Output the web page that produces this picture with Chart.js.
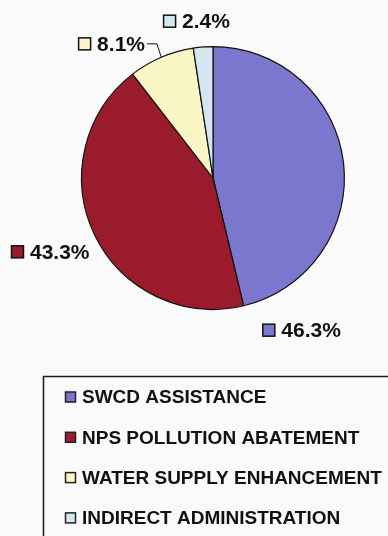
<!DOCTYPE html>
<html>
<head>
<meta charset="utf-8">
<script src="https://cdn.jsdelivr.net/npm/chart.js@4/dist/chart.umd.min.js"></script>
<style>
  html, body { margin: 0; padding: 0; background: #fafafa; }
  #wrap { width: 388px; height: 536px; position: relative; }
</style>
</head>
<body>
<div id="wrap"><canvas id="c" width="388" height="536"></canvas></div>
<script>
// ---- data ----
const categories = ["SWCD ASSISTANCE", "NPS POLLUTION ABATEMENT", "WATER SUPPLY ENHANCEMENT", "INDIRECT ADMINISTRATION"];
const shares = [46.3, 43.3, 8.1, 2.4];
const sliceColors = ["#7b77cf", "#9a1b2b", "#faf5c4", "#d4e7f1"];

// label placement (clock angle from 12 o'clock in degrees, distance as multiple of radius)
const labelPlacement = [[149.8, 1.34], [245.6, 1.36], [322.9, 1.28], [354, 1.2]];
const leaderLines = [false, false, true, false];

const LABEL_FONT = 'bold 21px "Liberation Sans", Arial, sans-serif';
const LEGEND_FONT = 'bold 19px "Liberation Sans", Arial, sans-serif';

const labelsPlugin = {
  id: 'pctLabels',
  afterDatasetsDraw(chart) {
    const ctx = chart.ctx;
    const meta = chart.getDatasetMeta(0);
    const ds = chart.data.datasets[0];
    ctx.save();
    ctx.font = LABEL_FONT;
    ctx.textBaseline = 'middle';
    meta.data.forEach((arc, i) => {
      const p = arc.getProps(['x', 'y', 'outerRadius', 'startAngle', 'endAngle'], true);
      const [deg, f] = labelPlacement[i];
      const a = (deg - 90) * Math.PI / 180;
      const cx = p.x + Math.cos(a) * p.outerRadius * f;
      const cy = p.y + Math.sin(a) * p.outerRadius * f;
      const txt = ds.data[i].toFixed(1) + '%';
      const tw = ctx.measureText(txt).width;
      const sq = 13, gap = 6;
      const total = sq + gap + tw;
      const x0 = cx - total / 2;
      ctx.fillStyle = ds.backgroundColor[i];
      ctx.fillRect(x0 + 0.5, cy - sq / 2 + 0.5, sq - 1, sq - 1);
      ctx.strokeStyle = '#111';
      ctx.lineWidth = 1.5;
      ctx.strokeRect(x0 + 0.5, cy - sq / 2 + 0.5, sq - 1, sq - 1);
      ctx.fillStyle = '#111';
      ctx.textAlign = 'left';
      ctx.fillText(txt, x0 + sq + gap, cy + 1);
      if (leaderLines[i]) {
        const mid = (p.startAngle + p.endAngle) / 2;
        const ex = p.x + Math.cos(mid) * p.outerRadius;
        const ey = p.y + Math.sin(mid) * p.outerRadius;
        const sx = x0 + total + 2;
        ctx.beginPath();
        ctx.lineWidth = 1;
        ctx.moveTo(sx, cy);
        ctx.lineTo(sx + 10, cy);
        ctx.lineTo(ex, ey);
        ctx.stroke();
      }
    });
    ctx.restore();
  }
};

const legendPlugin = {
  id: 'boxLegend',
  afterDraw(chart) {
    const ctx = chart.ctx;
    const ds = chart.data.datasets[0];
    ctx.save();
    ctx.strokeStyle = '#1a1a1a';
    ctx.lineWidth = 1.5;
    ctx.strokeRect(43.5, 376.5, 400, 200);
    ctx.font = LEGEND_FONT;
    ctx.textBaseline = 'middle';
    ctx.textAlign = 'left';
    const top = 397, step = 40.3;
    chart.data.labels.forEach((lab, i) => {
      const y = top + i * step;
      ctx.fillStyle = ds.backgroundColor[i];
      ctx.fillRect(65.5, y - 5, 10, 10);
      ctx.strokeStyle = '#222';
      ctx.lineWidth = 1.5;
      ctx.strokeRect(65.5, y - 5, 10, 10);
      ctx.fillStyle = '#111';
      ctx.fillText(lab, 82, y + 1);
    });
    ctx.restore();
  }
};

new Chart(document.getElementById('c'), {
  type: 'pie',
  data: {
    labels: categories,
    datasets: [{
      data: shares,
      backgroundColor: sliceColors,
      borderColor: '#111',
      borderWidth: 1.2,
      borderAlign: 'center'
    }]
  },
  options: {
    responsive: false,
    animation: false,
    events: [],
    layout: { padding: { left: 81, top: 46, right: 43, bottom: 226 } },
    plugins: { legend: { display: false }, tooltip: { enabled: false } }
  },
  plugins: [labelsPlugin, legendPlugin]
});
</script>
</body>
</html>
